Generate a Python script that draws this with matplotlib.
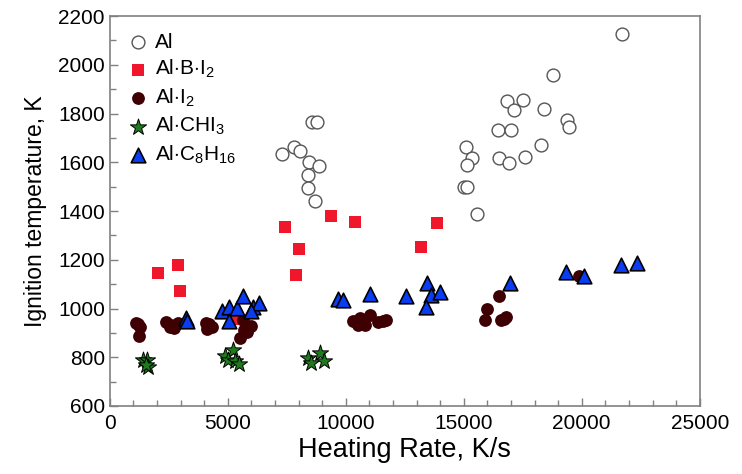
import matplotlib.pyplot as plt
import numpy as np

plt.rcParams['font.family'] = ['Liberation Sans', 'DejaVu Sans']
plt.rcParams['mathtext.fontset'] = 'custom'
plt.rcParams['mathtext.rm'] = 'Liberation Sans'
plt.rcParams['mathtext.it'] = 'Liberation Sans'

# Al (open circles)
al_x = [7290, 7810, 8060, 8430, 8870, 8390, 8380, 8700, 8550, 8790,
        15100, 15350, 15130, 15010, 15140, 15550, 16440, 16500, 16820, 17000,
        16900, 17130, 17510, 17600, 18260, 18380, 18800, 19380, 19480, 21710]
al_y = [1633, 1664, 1646, 1601, 1583, 1546, 1496, 1440, 1764, 1764,
        1662, 1616, 1590, 1497, 1497, 1388, 1733, 1616, 1850, 1733,
        1598, 1813, 1854, 1621, 1670, 1820, 1959, 1775, 1745, 2127]

# Al-B-I2 (red squares)
abi_x = [2050, 2910, 2990, 5300, 7440, 7910, 8020, 9380, 10370, 13190, 13870]
abi_y = [1144, 1180, 1072, 956, 1333, 1139, 1243, 1379, 1356, 1254, 1351]

# Al-I2 (dark circles)
ai_x = [1130, 1271, 1243, 1180, 2401, 2613, 2712, 2900, 2545,
        4068, 4124, 4336, 4200, 5650, 5904, 5819, 5537, 5980, 5692,
        10311, 10593, 10805, 11017, 11370, 10522, 11560, 11700,
        16483, 15989, 15918, 16596, 16780, 16700, 19900]
ai_y = [942, 925, 888, 935, 946, 932, 919, 940, 925,
        939, 916, 923, 935, 953, 923, 905, 880, 930, 912,
        950, 960, 932, 973, 946, 932, 949, 952,
        1051, 998, 953, 953, 964, 958, 1135]

# Al-CHI3 (green stars)
ac_x = [1412, 1596, 1624, 1540, 4873, 5226, 5028, 5297, 5480, 8404, 8517, 8912, 9068]
ac_y = [789, 789, 759, 770, 807, 830, 789, 783, 772, 798, 778, 819, 786]

# Al-C8H16 (blue triangles)
ach_x = [3220, 3250, 4760, 5040, 5400, 5660, 6060, 6310, 5050, 6000,
         9680, 9890, 11030, 12570, 13460, 13600, 14010, 13420,
         16940, 19320, 20090, 21670, 22360]
ach_y = [960, 950, 991, 1007, 1003, 1053, 1007, 1022, 950, 989,
         1038, 1035, 1059, 1052, 1103, 1055, 1069, 1005,
         1106, 1151, 1133, 1177, 1187]

fig = plt.figure(figsize=(7.42, 4.74), dpi=100)
ax = fig.add_axes([0.148, 0.1435, 0.795, 0.8225])

ax.scatter(al_x, al_y, s=85, facecolors='white', edgecolors='#555555', linewidths=1.0, label='Al', zorder=2)
ax.scatter(abi_x, abi_y, s=80, marker='s', color='#f0172c', linewidths=0, label=r'Al$\cdot$B$\cdot$I$_2$', zorder=3)
ax.scatter(ai_x, ai_y, s=85, color='#3f0003', linewidths=0, label=r'Al$\cdot$I$_2$', zorder=3)
ax.scatter(ac_x, ac_y, s=150, marker='*', color='#1f7a1f', edgecolors='black', linewidths=0.7, label=r'Al$\cdot$CHI$_3$', zorder=4)
ax.scatter(ach_x, ach_y, s=110, marker='^', color='#0a3cf2', edgecolors='black', linewidths=1.2, label=r'Al$\cdot$C$_8$H$_{16}$', zorder=5)

ax.set_xlim(0, 25000)
ax.set_ylim(600, 2200)
ax.set_xticks(np.arange(0, 25001, 5000))
ax.set_yticks(np.arange(600, 2201, 200))
ax.set_xticks(np.arange(0, 25001, 1000), minor=True)
ax.set_yticks(np.arange(600, 2201, 100), minor=True)
ax.tick_params(which='both', direction='in', color='#808080', labelsize=15)
ax.tick_params(which='major', length=6, width=1)
ax.tick_params(which='minor', length=4, width=1)
ax.tick_params(axis='x', pad=6)
for sp in ax.spines.values():
    sp.set_color('#808080')
    sp.set_linewidth(1.2)

ax.set_xlabel('Heating Rate, K/s', fontsize=19.5, labelpad=3)
ax.set_ylabel('Ignition temperature, K', fontsize=16.5, labelpad=8)

ax.legend(loc='upper left', frameon=False, fontsize=15, handletextpad=0.25,
          labelspacing=0.3, borderaxespad=0.4, handlelength=1.1,
          bbox_to_anchor=(0.0, 1.0))

fig.savefig('out.png', dpi=100)
